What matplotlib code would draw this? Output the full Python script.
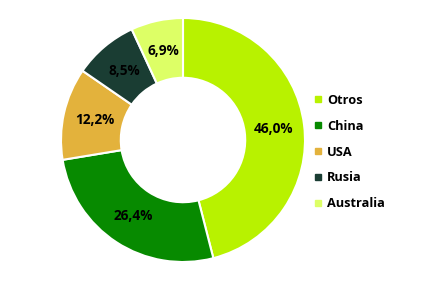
import numpy as np
import matplotlib.pyplot as plt
from matplotlib.lines import Line2D

categories = ["Otros", "China", "USA", "Rusia", "Australia"]
values = [46.0, 26.4, 12.2, 8.5, 6.9]
labels = ["46,0%", "26,4%", "12,2%", "8,5%", "6,9%"]
colors = ["#B8F200", "#078A00", "#E3B23C", "#1A3D33", "#DDFF66"]

plt.rcParams["font.family"] = ["Open Sans", "DejaVu Sans"]

fig = plt.figure(figsize=(4.36, 2.85), dpi=100)
# square axes centred on the donut
ax = fig.add_axes([61 / 436, 23 / 285, 244 / 436, 244 / 285])

wedges, _ = ax.pie(values, colors=colors, startangle=90, counterclock=False,
                   radius=1.0, wedgeprops=dict(width=0.49, edgecolor="white", linewidth=1.5))

# percent labels in the middle of the ring
ang = 90.0
for v, lab in zip(values, labels):
    mid = np.deg2rad(ang - v / 100 * 360 / 2)
    ang -= v / 100 * 360
    ax.text(0.745 * np.cos(mid), 0.745 * np.sin(mid), lab, ha="center", va="center",
            fontsize=9.8, fontweight="bold", color="black")

ax.set_xlim(-1, 1)
ax.set_ylim(-1, 1)
ax.set_aspect("equal")
ax.axis("off")

handles = [Line2D([], [], marker="s", linestyle="none", markersize=5,
                  markerfacecolor=c, markeredgecolor=c) for c in colors]
fig.legend(handles, categories, loc="center left", bbox_to_anchor=(301 / 436, 1 - 152 / 285),
           frameon=False, handlelength=0.8, handletextpad=0.35, labelspacing=1.0,
           prop=dict(weight="bold", size=9.2))

fig.savefig("out.png", dpi=100)
